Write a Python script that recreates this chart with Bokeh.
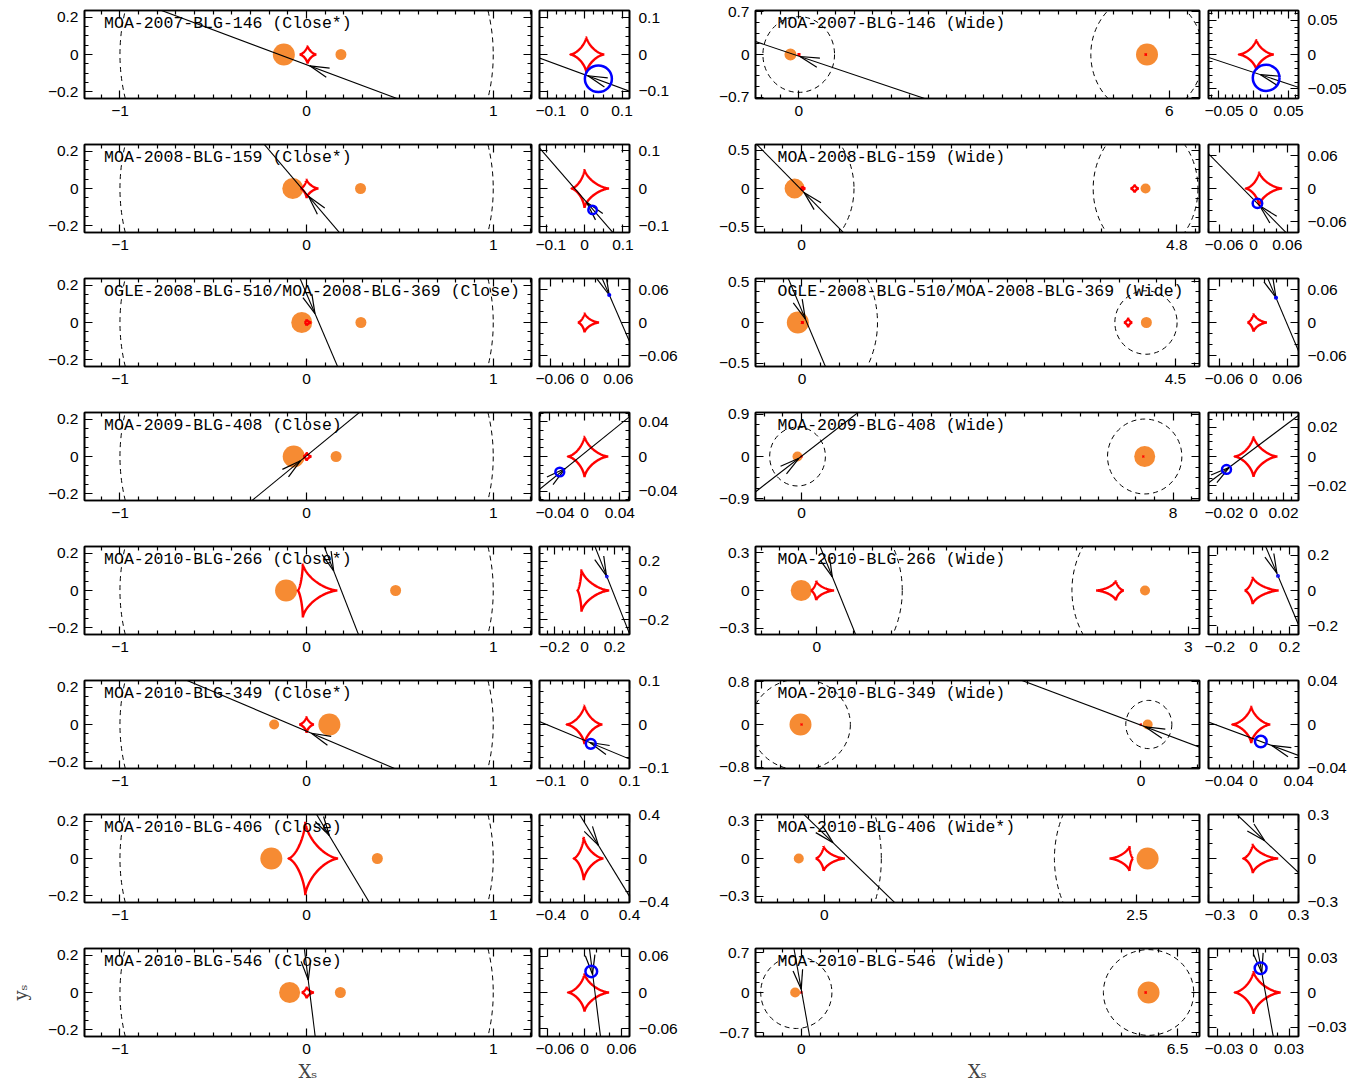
import numpy as np
from bokeh.plotting import figure
from bokeh.models import Range1d, FixedTicker, LinearAxis, Label, CustomJSTickFormatter
from bokeh.layouts import row, column
from bokeh.embed import file_html
from bokeh.resources import INLINE

# ---------------- data ----------------
close_titles = ["MOA-2007-BLG-146 (Close*)", "MOA-2008-BLG-159 (Close*)",
                "OGLE-2008-BLG-510/MOA-2008-BLG-369 (Close)", "MOA-2009-BLG-408 (Close)",
                "MOA-2010-BLG-266 (Close*)", "MOA-2010-BLG-349 (Close*)",
                "MOA-2010-BLG-406 (Close)", "MOA-2010-BLG-546 (Close)"]
wide_titles = ["MOA-2007-BLG-146 (Wide)", "MOA-2008-BLG-159 (Wide)",
               "OGLE-2008-BLG-510/MOA-2008-BLG-369 (Wide)", "MOA-2009-BLG-408 (Wide)",
               "MOA-2010-BLG-266 (Wide)", "MOA-2010-BLG-349 (Wide)",
               "MOA-2010-BLG-406 (Wide*)", "MOA-2010-BLG-546 (Wide)"]

# close topology: lens positions (x on axis) and marker sizes
close_lens_x = [[-0.122, 0.184], [-0.074, 0.289], [-0.026, 0.291], [-0.069, 0.158],
                [-0.110, 0.477], [0.122, -0.174], [-0.189, 0.379], [-0.091, 0.181]]
close_lens_px = [[22, 11], [21, 11], [21, 11], [22, 11], [22, 11], [22, 10], [22, 11], [21, 11]]
# caustics: (x centre, left cusp extent, right cusp extent, half height)
close_caustics = [[(0.005, 0.043, 0.048, 0.050)], [(0.0, 0.034, 0.064, 0.052)],
                  [(0.0, 0.012, 0.026, 0.018)], [(0.0, 0.019, 0.027, 0.024)],
                  [(-0.020, 0.028, 0.185, 0.145)], [(0.0, 0.040, 0.040, 0.045)],
                  [(-0.007, 0.091, 0.176, 0.198)], [(0.0, 0.027, 0.040, 0.032)]]
close_crit = [(0.0, 1.0, 1.0)]  # Einstein ring: centre, rx, ry
close_traj_point = [(0.0, -0.055), (0.0, -0.030), (0.045, 0.048), (0.0, 0.004),
                    (0.186, 0.0), (0.0, -0.036), (0.195, 0.0), (0.017, 0.0)]
close_traj_angle = [159.4, 130.3, -67.0, 39.5, -68.8, 156.9, -59.2, -83.0]
close_arrow_main = [(0.017, -0.061), (0.010, -0.042), (0.045, 0.048), (-0.033, -0.023),
                    (0.145, 0.105), (0.026, -0.047), (0.122, 0.123), (0.009, 0.067)]
close_arrow_zoom = [(0.009, -0.058), (0.005, -0.036), (0.044, 0.050), (-0.022, -0.014),
                    (0.146, 0.100), (0.012, -0.041), (0.124, 0.119), (0.013, 0.030)]
close_source = [(0.037, -0.066, 0.036), (0.021, -0.057, 0.011), (0.044, 0.050, 0.0015),
                (-0.028, -0.018, 0.005), (0.149, 0.095, 0.004), (0.014, -0.044, 0.011),
                None, (0.011, 0.035, 0.0095)]
close_zoom_half = [0.12, 0.117, 0.08, 0.051, 0.3, 0.1, 0.4, 0.073]
close_zoom_tick = [0.1, 0.1, 0.06, 0.04, 0.2, 0.1, 0.4, 0.06]

# wide topology
wide_lens_x = [[-0.134, 5.64], [-0.09, 4.40], [-0.05, 4.15], [-0.086, 7.39],
               [-0.126, 2.65], [-6.28, 0.124], [-0.204, 2.585], [-0.105, 6.0]]
wide_lens_px = [[12, 22], [20, 10], [22, 11], [10, 21], [21, 10], [22, 10], [10, 22], [10, 22]]
wide_caustics = [[(0.004, 0.025, 0.025, 0.0225), (5.62, 0.02, 0.02, 0.02)],
                 [(0.01, 0.024, 0.041, 0.031), (4.26, 0.055, 0.055, 0.055)],
                 [(0.0, 0.011, 0.024, 0.017), (3.93, 0.052, 0.052, 0.06)],
                 [(0.0, 0.0127, 0.016, 0.014), (7.36, 0.02, 0.02, 0.02)],
                 [(-0.005, 0.045, 0.145, 0.078), (2.415, 0.16, 0.065, 0.08)],
                 [(-0.002, 0.017, 0.017, 0.017), (-6.26, 0.02, 0.02, 0.02)],
                 [(-0.005, 0.065, 0.17, 0.10), (2.44, 0.16, 0.03, 0.10)],
                 [(0.0, 0.016, 0.023, 0.0185), (5.95, 0.02, 0.02, 0.02)]]
wide_crit = [[(0.0, 0.58, 0.62), (5.64, 0.91, 1.0)],
             [(-0.09, 0.76, 0.9), (4.40, 0.67, 0.86)],
             [(-0.05, 0.96, 1.1), (4.145, 0.375, 0.39)],
             [(-0.085, 0.6, 0.63), (7.39, 0.8, 0.8)],
             [(-0.126, 0.816, 0.83), (2.65, 0.59, 0.66)],
             [(-6.28, 0.92, 0.85), (0.145, 0.425, 0.45)],
             [(-0.204, 0.66, 0.9), (2.585, 0.745, 0.83)],
             [(-0.085, 0.615, 0.63), (6.0, 0.78, 0.75)]]
wide_traj_point = [(0.0, -0.026), (0.0, -0.020), (0.04, 0.045), (0.0, 0.005),
                   (0.17, 0.0), (0.0, -0.013), (0.2, 0.0), (0.01, 0.0)]
wide_traj_angle = [161.2, 133.9, -67.5, 37.5, -67.7, 159.2, -44.0, -80.0]
wide_arrow_main = [(0.02, -0.033), (0.03, -0.051), (0.04, 0.045), (-0.056, -0.038),
                   (0.125, 0.109), (0.083, -0.045), (0.07, 0.126), (0.0, 0.057)]
wide_arrow_zoom = [(0.010, -0.0294), (0.011, -0.0314), (0.040, 0.045), (-0.016, -0.0073),
                   (0.13, 0.098), (0.016, -0.019), (0.075, 0.121), (0.007, 0.017)]
wide_source = [(0.018, -0.034, 0.019), (0.007, -0.027, 0.0085), (0.040, 0.045, 0.0015),
               (-0.018, -0.0088, 0.003), (0.136, 0.083, 0.004), (0.0065, -0.0155, 0.0052),
               None, (0.006, 0.021, 0.005)]
wide_x_range = [(-0.70, 6.49), (-0.59, 5.09), (-0.56, 4.79), (-0.99, 8.57),
                (-0.495, 3.09), (-7.11, 1.08), (-0.55, 3.0), (-0.79, 6.88)]
wide_y_half = [0.72, 0.575, 0.54, 0.94, 0.35, 0.82, 0.35, 0.77]
wide_x_tick = [6, 4.8, 4.5, 8, 3, -7, 2.5, 6.5]
wide_y_tick = [0.7, 0.5, 0.5, 0.9, 0.3, 0.8, 0.3, 0.7]
wide_zoom_half = [0.064, 0.08, 0.08, 0.03, 0.25, 0.04, 0.3, 0.038]
wide_zoom_tick = [0.05, 0.06, 0.06, 0.02, 0.2, 0.04, 0.3, 0.03]

# ---------------- styling / layout constants ----------------
ORANGE = "#F68B33"
FW_C, FW_Z, FW_W, FH = 447, 90, 444, 88
CLOSE_XR = (-1.19, 1.205)
CLOSE_YR = (-0.237, 0.237)
TICK_FONT = "Liberation Sans"
TICK_SIZE = "15.5px"
TICK_FMT = CustomJSTickFormatter(code="""
  var s = Math.abs(tick).toString();
  return tick < 0 ? "\\u2212" + s : s;
""")


def minor_list(step, lo, hi, majors):
    k0 = int(np.ceil(lo / step - 1e-9))
    k1 = int(np.floor(hi / step + 1e-9))
    vals = [round(k * step, 10) for k in range(k0, k1 + 1)]
    return [v for v in vals if all(abs(v - m) > 1e-9 for m in majors)]


def style_axis(ax, labels, standoff=6):
    ax.axis_line_color = "black"
    ax.axis_line_width = 1.6
    ax.major_tick_in = 8
    ax.major_tick_out = 0
    ax.minor_tick_in = 4
    ax.minor_tick_out = 0
    ax.major_tick_line_width = 1.2
    ax.minor_tick_line_width = 1.2
    ax.major_tick_line_color = "black"
    ax.minor_tick_line_color = "black"
    ax.formatter = TICK_FMT
    if labels:
        ax.major_label_text_font = TICK_FONT
        ax.major_label_text_font_size = TICK_SIZE
        ax.major_label_text_color = "black"
        ax.major_label_standoff = standoff
    else:
        ax.major_label_text_font_size = "1px"
        ax.major_label_text_color = None
        ax.major_label_standoff = 0


def panel(fw, xr, yr, xmaj, xmin, ymaj, ymin, ylab_right, borders, xlabel=None, ylabel=None):
    bl, br, bt, bb = borders
    p = figure(frame_width=fw, frame_height=FH, x_range=Range1d(*xr), y_range=Range1d(*yr),
               output_backend="svg", toolbar_location=None,
               min_border_left=bl, min_border_right=br, min_border_top=bt, min_border_bottom=bb)
    p.xgrid.visible = False
    p.ygrid.visible = False
    p.outline_line_color = "black"
    p.outline_line_width = 1.6
    p.background_fill_color = "white"
    p.border_fill_color = "white"
    xt = FixedTicker(ticks=xmaj, minor_ticks=xmin)
    yt = FixedTicker(ticks=ymaj, minor_ticks=ymin)
    bx = p.below[0]
    bx.ticker = xt
    style_axis(bx, True, 7)
    ly = p.left[0]
    ly.ticker = yt
    style_axis(ly, not ylab_right, 6)
    ax = LinearAxis(ticker=xt)
    style_axis(ax, False)
    p.add_layout(ax, "above")
    ry = LinearAxis(ticker=yt)
    style_axis(ry, ylab_right, 9)
    p.add_layout(ry, "right")
    if xlabel:
        bx.axis_label = xlabel
        bx.axis_label_text_font = "DejaVu Serif"
        bx.axis_label_text_font_style = "normal"
        bx.axis_label_text_font_size = "18px"
        bx.axis_label_standoff = 4
    if ylabel:
        ly.axis_label = ylabel
        ly.axis_label_text_font = "DejaVu Serif"
        ly.axis_label_text_font_style = "normal"
        ly.axis_label_text_font_size = "18px"
        ly.axis_label_standoff = 14
    return p


def caustic_xy(xc, aL, aR, b, n=240):
    t = np.linspace(0, 2 * np.pi, n)
    c = np.cos(t) ** 3
    s = np.sin(t) ** 3
    return xc + np.where(c > 0, aR, aL) * c, b * s


def draw_content(p, fw, xr, yr, lens_x, lens_px, caustics, crit, tpt, tang, tip, source, zoom):
    ppx = fw / (xr[1] - xr[0])
    ppy = FH / (yr[1] - yr[0])
    if not zoom:
        # critical curves
        p.ellipse(x=[c[0] for c in crit], y=[0.0] * len(crit),
                  width=[2 * c[1] for c in crit], height=[2 * c[2] for c in crit],
                  fill_color=None, line_color="black", line_width=1, line_dash="5 4")
        # lens masses
        p.scatter(x=lens_x, y=[0.0] * len(lens_x), size=lens_px, marker="circle",
                  fill_color=ORANGE, line_color=None)
    # caustics
    for (xc, aL, aR, b) in caustics:
        cx, cy = caustic_xy(xc, aL, aR, b)
        p.line(cx, cy, line_color="red", line_width=2.4)
    # trajectory
    th = np.radians(tang)
    L = 60.0
    p.line([tpt[0] - L * np.cos(th), tpt[0] + L * np.cos(th)],
           [tpt[1] - L * np.sin(th), tpt[1] + L * np.sin(th)],
           line_color="black", line_width=1.1)
    # arrow head (open barbs behind the tip)
    phi = np.arctan2(np.sin(th) * ppy, np.cos(th) * ppx)
    x1, y1 = [], []
    for d in (14.0, -14.0):
        a = phi + np.pi + np.radians(d)
        x1.append(tip[0] + 20 * np.cos(a) / ppx)
        y1.append(tip[1] + 20 * np.sin(a) / ppy)
    p.segment(x0=[tip[0]] * 2, y0=[tip[1]] * 2, x1=x1, y1=y1, line_color="black", line_width=1.2)
    # source star (only in the zoomed panels)
    if zoom and source is not None:
        p.ellipse(x=[source[0]], y=[source[1]], width=[2 * source[2]], height=[2 * source[2]],
                  fill_color=None, line_color="blue", line_width=2.5)


def add_title(p, fw, xr, yr, text, off):
    ppx = fw / (xr[1] - xr[0])
    ppy = FH / (yr[1] - yr[0])
    p.add_layout(Label(x=xr[0] + off / ppx, y=yr[1] - 13.0 / ppy, text=text,
                       text_font="Liberation Mono", text_font_size="16.5px",
                       text_color="black", text_baseline="alphabetic", text_align="left"))


rows = []
for i in range(8):
    last = (i == 7)
    bb = 47 if last else 36
    bt = 10

    # ---- close main panel
    cmaj = [-1, 0, 1]
    cmin = minor_list(0.1, *CLOSE_XR, cmaj)
    cymaj = [-0.2, 0, 0.2]
    cymin = minor_list(0.05, *CLOSE_YR, cymaj)
    pc = panel(FW_C, CLOSE_XR, CLOSE_YR, cmaj, cmin, cymaj, cymin, False, (84, 4, bt, bb),
               xlabel="X\u209b" if last else None, ylabel="y\u209b" if last else None)
    draw_content(pc, FW_C, CLOSE_XR, CLOSE_YR, close_lens_x[i], close_lens_px[i], close_caustics[i],
                 close_crit, close_traj_point[i], close_traj_angle[i], close_arrow_main[i],
                 close_source[i], False)
    add_title(pc, FW_C, CLOSE_XR, CLOSE_YR, close_titles[i], 19.6)

    # ---- close zoom panel
    h = close_zoom_half[i]
    t = close_zoom_tick[i]
    zr = (-h, h)
    zyr = (-max(h, t * 1.002), max(h, t * 1.002))
    div = 3 if t in (0.06, 0.03, 0.3) else 4
    zmaj = [-t, 0, t]
    pcz = panel(FW_Z, zr, zyr, zmaj, minor_list(t / div, *zr, zmaj), zmaj,
                minor_list(t / div, *zyr, zmaj), True, (4, 63, bt, bb))
    draw_content(pcz, FW_Z, zr, zyr, close_lens_x[i], close_lens_px[i], close_caustics[i],
                 close_crit, close_traj_point[i], close_traj_angle[i], close_arrow_zoom[i],
                 close_source[i], True)

    # ---- wide main panel
    wxr = wide_x_range[i]
    wyr = (-wide_y_half[i], wide_y_half[i])
    T = wide_x_tick[i]
    wxmaj = sorted([0, T])
    wymaj = [-wide_y_tick[i], 0, wide_y_tick[i]]
    pw = panel(FW_W, wxr, wyr, wxmaj, minor_list(abs(T) / 20, *wxr, wxmaj), wymaj,
               minor_list(wide_y_tick[i] / 4, *wyr, wymaj), False, (63, 5, bt, bb),
               xlabel="X\u209b" if last else None)
    draw_content(pw, FW_W, wxr, wyr, wide_lens_x[i], wide_lens_px[i], wide_caustics[i],
                 wide_crit[i], wide_traj_point[i], wide_traj_angle[i], wide_arrow_main[i],
                 wide_source[i], False)
    add_title(pw, FW_W, wxr, wyr, wide_titles[i], 22)

    # ---- wide zoom panel
    h = wide_zoom_half[i]
    t = wide_zoom_tick[i]
    zr = (-h, h)
    zyr = (-max(h, t * 1.002), max(h, t * 1.002))
    div = 3 if t in (0.06, 0.03, 0.3) else (5 if t == 0.05 else 4)
    zmaj = [-t, 0, t]
    pwz = panel(FW_Z, zr, zyr, zmaj, minor_list(t / div, *zr, zmaj), zmaj,
                minor_list(t / div, *zyr, zmaj), True, (4, 58, bt, bb))
    draw_content(pwz, FW_Z, zr, zyr, wide_lens_x[i], wide_lens_px[i], wide_caustics[i],
                 wide_crit[i], wide_traj_point[i], wide_traj_angle[i], wide_arrow_zoom[i],
                 wide_source[i], True)

    rows.append(row(pc, pcz, pw, pwz))

layout = column(*rows)
open("out.html", "w").write(file_html(layout, INLINE))
